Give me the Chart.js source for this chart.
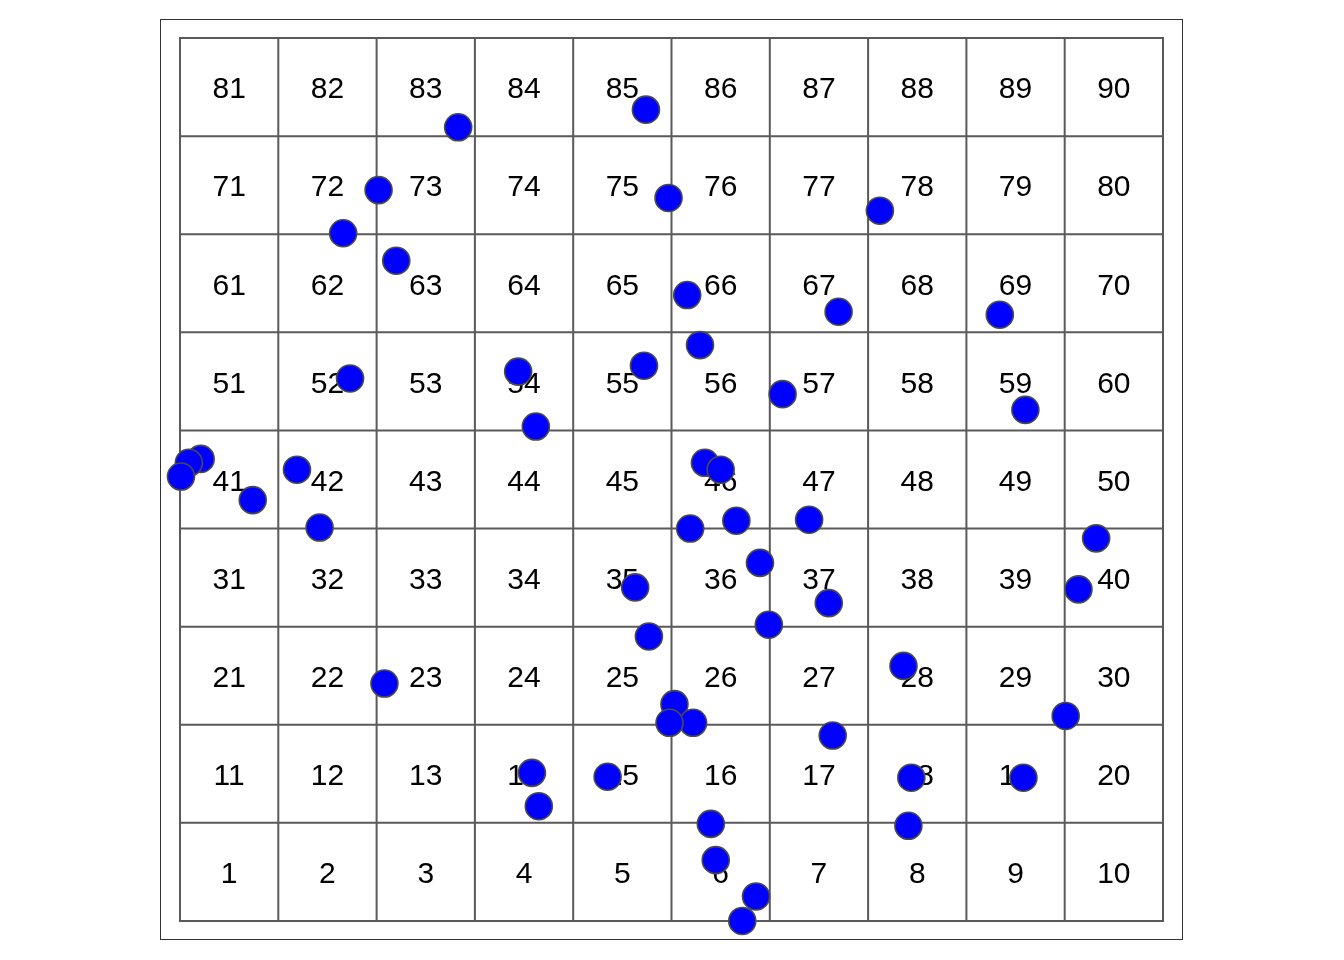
<!DOCTYPE html>
<html>
<head>
<meta charset="utf-8">
<script src="https://cdn.jsdelivr.net/npm/chart.js@4.4.0/dist/chart.umd.min.js"></script>
<style>
html,body{margin:0;padding:0;background:#fff;}
#wrap{width:1344px;height:960px;}
</style>
</head>
<body>
<div id="wrap"><canvas id="c" width="1344" height="960"></canvas></div>
<script>
// Grid definition (columns / rows of cells)
const xTicks = [0,1,2,3,4,5,6,7,8,9,10];
const yTicks = [0,1,2,3,4,5,6,7,8,9];
// Cell labels, bottom row first
const cellRows = [
  [1,2,3,4,5,6,7,8,9,10],
  [11,12,13,14,15,16,17,18,19,20],
  [21,22,23,24,25,26,27,28,29,30],
  [31,32,33,34,35,36,37,38,39,40],
  [41,42,43,44,45,46,47,48,49,50],
  [51,52,53,54,55,56,57,58,59,60],
  [61,62,63,64,65,66,67,68,69,70],
  [71,72,73,74,75,76,77,78,79,80],
  [81,82,83,84,85,86,87,88,89,90]
];
// Point locations (in cell units)
const ptX = [2.83,4.74,2.02,4.97,7.12,1.66,2.20,5.16,6.70,8.34,5.29,4.72,3.44,1.73,6.13,8.60,3.62,0.21,0.09,0.01,0.74,1.19,1.42,5.34,5.50,5.19,5.66,6.40,9.32,5.90,4.63,6.60,9.14,5.99,4.77,7.36,2.08,5.03,5.22,4.98,9.01,6.64,3.58,4.35,7.44,8.58,3.65,5.40,7.41,5.45,5.86,5.72];
const ptY = [8.09,8.27,7.45,7.37,7.24,7.01,6.73,6.38,6.21,6.18,5.87,5.66,5.60,5.53,5.37,5.21,5.04,4.71,4.67,4.53,4.29,4.60,4.01,4.67,4.60,4.00,4.08,4.09,3.90,3.65,3.40,3.24,3.38,3.02,2.90,2.60,2.42,2.21,2.02,2.02,2.09,1.89,1.51,1.47,1.46,1.46,1.17,0.99,0.97,0.62,0.25,0.00];

const points = ptX.map((x,i)=>({x:x, y:ptY[i]}));

const gridPlugin = {
  id:'gridPlugin',
  beforeDatasetsDraw(chart){
    const ctx = chart.ctx, xs = chart.scales.x, ys = chart.scales.y, ca = chart.chartArea;
    ctx.save();
    // outer box
    ctx.strokeStyle = '#333';
    ctx.lineWidth = 1;
    ctx.strokeRect(Math.round(ca.left)+0.5, Math.round(ca.top)+0.5, Math.round(ca.right-ca.left)-1, Math.round(ca.bottom-ca.top)-1);
    // grid lines
    ctx.strokeStyle = '#5a5a5a';
    ctx.lineWidth = 2;
    const x0 = xs.getPixelForValue(xTicks[0]), x1 = xs.getPixelForValue(xTicks[xTicks.length-1]);
    const y0 = ys.getPixelForValue(yTicks[0]), y1 = ys.getPixelForValue(yTicks[yTicks.length-1]);
    ctx.beginPath();
    xTicks.forEach(v=>{const p = xs.getPixelForValue(v); ctx.moveTo(p,y0+1); ctx.lineTo(p,y1-1);});
    yTicks.forEach(v=>{const p = ys.getPixelForValue(v); ctx.moveTo(x0-1,p); ctx.lineTo(x1+1,p);});
    ctx.stroke();
    // labels
    ctx.fillStyle = '#000';
    ctx.font = '30px "Liberation Sans", Arial, Helvetica, sans-serif';
    ctx.textAlign = 'center';
    ctx.textBaseline = 'middle';
    cellRows.forEach((row,r)=>{
      row.forEach((lab,c)=>{
        ctx.fillText(String(lab), xs.getPixelForValue(c+0.5), ys.getPixelForValue(r+0.5)+3);
      });
    });
    ctx.restore();
  }
};

new Chart(document.getElementById('c'), {
  type:'scatter',
  data:{datasets:[{
    data: points,
    backgroundColor:'#0000ff',
    borderColor:'#4a4a4a',
    borderWidth:1.6,
    pointRadius:13.5,
    pointHoverRadius:13.5,
    clip:false
  }]},
  options:{
    responsive:false,
    animation:false,
    events:[],
    layout:{padding:{left:160,right:161,top:19,bottom:20}},
    plugins:{legend:{display:false},tooltip:{enabled:false}},
    scales:{
      x:{type:'linear',min:-0.2035,max:10.2035,display:false},
      y:{type:'linear',min:-0.194,max:9.194,display:false}
    }
  },
  plugins:[gridPlugin]
});
</script>
</body>
</html>
